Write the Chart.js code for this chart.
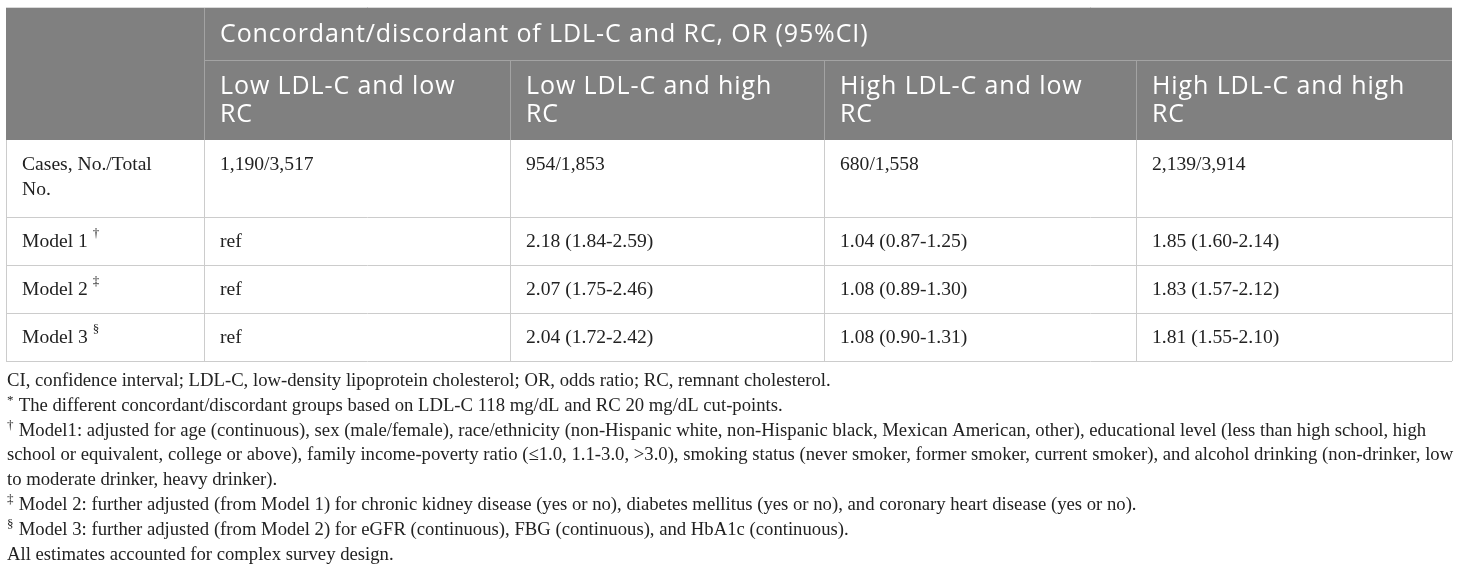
<!DOCTYPE html>
<html lang="en">
<head>
    <meta charset="UTF-8">
    <title>Concordant/discordant of LDL-C and RC</title>
    <script src="https://cdn.jsdelivr.net/npm/chart.js@4.4.1/dist/chart.umd.min.js"></script>
    <style>
        html, body {
            margin: 0;
            padding: 0;
            background: #fff;
            overflow: hidden;
        }
        #wrap {
            width: 1460px;
            height: 572px;
            position: relative;
        }
    </style>
</head>
<body>
<div id="wrap"><canvas id="tableChart"></canvas></div>

<script>
    // table content
    const spanHeader = 'Concordant/discordant of LDL-C and RC, OR (95%CI)';
    const groups = [
        ['Low LDL-C and low', 'RC'],
        ['Low LDL-C and high', 'RC'],
        ['High LDL-C and low', 'RC'],
        ['High LDL-C and high', 'RC']
    ];
    const rowLabels = [['Cases, No./Total', 'No.'], ['Model 1'], ['Model 2'], ['Model 3']];
    const rowMarks = ['', '\u2020', '\u2021', '\u00a7'];
    const cases = ['1,190/3,517', '954/1,853', '680/1,558', '2,139/3,914'];
    const model1 = ['ref', '2.18 (1.84-2.59)', '1.04 (0.87-1.25)', '1.85 (1.60-2.14)'];
    const model2 = ['ref', '2.07 (1.75-2.46)', '1.08 (0.89-1.30)', '1.83 (1.57-2.12)'];
    const model3 = ['ref', '2.04 (1.72-2.42)', '1.08 (0.90-1.31)', '1.81 (1.55-2.10)'];
    const footMarks = ['', '*', '\u2020', '', '', '\u2021', '\u00a7', ''];
    const footnotes = [
        'CI, confidence interval; LDL-C, low-density lipoprotein cholesterol; OR, odds ratio; RC, remnant cholesterol.',
        'The different concordant/discordant groups based on LDL-C 118 mg/dL and RC 20 mg/dL cut-points.',
        'Model1: adjusted for age (continuous), sex (male/female), race/ethnicity (non-Hispanic white, non-Hispanic black, Mexican American, other), educational level (less than high school, high',
        'school or equivalent, college or above), family income-poverty ratio (\u22641.0, 1.1-3.0, >3.0), smoking status (never smoker, former smoker, current smoker), and alcohol drinking (non-drinker, low',
        'to moderate drinker, heavy drinker).',
        'Model 2: further adjusted (from Model 1) for chronic kidney disease (yes or no), diabetes mellitus (yes or no), and coronary heart disease (yes or no).',
        'Model 3: further adjusted (from Model 2) for eGFR (continuous), FBG (continuous), and HbA1c (continuous).',
        'All estimates accounted for complex survey design.'
    ];

    // layout in page units (the x/y scales run 0..1460 and 0..572)
    const colEdges = [6, 204, 510, 824, 1136, 1452];
    const rowEdges = [7, 60, 140, 217, 265, 313, 361];
    const footTop = 381;
    const footStep = 24.8;

    const headFont = '"Open Sans", sans-serif';
    const bodyFont = '"Liberation Serif", serif';

    const tablePlugin = {
        id: 'tablePlugin',
        afterDraw(chart) {
            const ctx = chart.ctx;
            const xs = chart.scales.x;
            const ys = chart.scales.y;
            const X = v => xs.getPixelForValue(v);
            const Y = v => ys.getPixelForValue(v);
            const left = X(colEdges[0]), right = X(colEdges[colEdges.length - 1]);

            ctx.save();
            // header band
            ctx.fillStyle = '#808080';
            ctx.fillRect(left, Y(rowEdges[0]), right - left, Y(rowEdges[2]) - Y(rowEdges[0]));

            const hline = (y, x0, x1, color) => {
                ctx.strokeStyle = color;
                ctx.lineWidth = 1;
                ctx.beginPath();
                ctx.moveTo(x0, Math.round(Y(y)) + 0.5);
                ctx.lineTo(x1, Math.round(Y(y)) + 0.5);
                ctx.stroke();
            };
            const vline = (x, y0, y1, color) => {
                ctx.strokeStyle = color;
                ctx.lineWidth = 1;
                ctx.beginPath();
                ctx.moveTo(Math.round(X(x)) + 0.5, Y(y0));
                ctx.lineTo(Math.round(X(x)) + 0.5, Y(y1));
                ctx.stroke();
            };

            // header grid
            hline(rowEdges[1], X(colEdges[1]), right, '#a3a3a3');
            vline(colEdges[1], rowEdges[0], rowEdges[2], '#a3a3a3');
            for (let c = 2; c < colEdges.length - 1; c++) {
                vline(colEdges[c], rowEdges[1], rowEdges[2], '#a3a3a3');
            }
            // body grid
            for (let r = 3; r < rowEdges.length; r++) {
                hline(rowEdges[r], left, right, '#cccccc');
            }
            for (let c = 1; c < colEdges.length - 1; c++) {
                vline(colEdges[c], rowEdges[2], rowEdges[rowEdges.length - 1], '#cccccc');
            }
            vline(colEdges[0], rowEdges[2], rowEdges[rowEdges.length - 1], '#cccccc');
            vline(colEdges[colEdges.length - 1], rowEdges[2], rowEdges[rowEdges.length - 1], '#cccccc');
            hline(rowEdges[0], left, right, '#d9d9d9');

            // header text
            ctx.fillStyle = '#ffffff';
            ctx.textBaseline = 'middle';
            ctx.textAlign = 'left';
            ctx.font = '25px ' + headFont;
            ctx.letterSpacing = '0.9px';
            ctx.fillText(spanHeader, X(colEdges[1] + 16), Y((rowEdges[0] + rowEdges[1]) / 2 + 1));
            groups.forEach((lines, i) => {
                lines.forEach((t, k) => {
                    ctx.fillText(t, X(colEdges[i + 1] + 16), Y(rowEdges[1] + 27 + k * 28));
                });
            });
            ctx.letterSpacing = '0px';

            // body text
            ctx.fillStyle = '#222222';
            const bodyRows = [cases, model1, model2, model3];
            bodyRows.forEach((vals, r) => {
                const top = rowEdges[r + 2];
                ctx.font = '19.6px ' + bodyFont;
                rowLabels[r].forEach((t, k) => {
                    ctx.fillText(t, X(colEdges[0] + 16), Y(top + 25 + k * 25));
                });
                if (rowMarks[r]) {
                    const w = ctx.measureText(rowLabels[r][0] + ' ').width;
                    ctx.font = '13px ' + bodyFont;
                    ctx.fillText(rowMarks[r], X(colEdges[0] + 16) + w, Y(top + 17));
                    ctx.font = '19.6px ' + bodyFont;
                }
                vals.forEach((v, c) => {
                    ctx.fillText(v, X(colEdges[c + 1] + 16), Y(top + 25));
                });
            });

            // footnotes
            footnotes.forEach((t, i) => {
                const y = footTop + i * footStep;
                let x = X(colEdges[0] + 1);
                if (footMarks[i]) {
                    ctx.font = '13px ' + bodyFont;
                    ctx.fillText(footMarks[i], x, Y(y - 5));
                    x += ctx.measureText(footMarks[i] + ' ').width + 2;
                }
                ctx.font = '18.7px ' + bodyFont;
                ctx.fillText(t, x, Y(y));
            });
            ctx.restore();
        }
    };

    const ctx = document.getElementById('tableChart').getContext('2d');
    const chart = new Chart(ctx, {
        type: 'scatter',
        data: { datasets: [{ data: [] }] },
        options: {
            responsive: true,
            maintainAspectRatio: false,
            animation: false,
            layout: { padding: 0 },
            plugins: { legend: { display: false }, tooltip: { enabled: false } },
            scales: {
                x: { type: 'linear', min: 0, max: 1460, display: false },
                y: { type: 'linear', min: 0, max: 572, reverse: true, display: false }
            }
        },
        plugins: [tablePlugin]
    });
</script>
</body>
</html>
